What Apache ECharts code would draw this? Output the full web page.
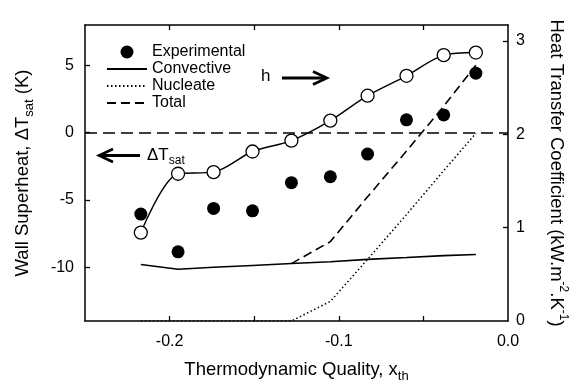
<!DOCTYPE html>
<html>
<head>
<meta charset="utf-8">
<script src="https://cdn.jsdelivr.net/npm/echarts@6/dist/echarts.min.js"></script>
<style>
  html, body { margin: 0; padding: 0; background: #fff; }
  #chart { width: 580px; height: 384px; }
</style>
</head>
<body>
<div id="chart"></div>
<script>
// thermodynamic quality of each measurement station
const quality = [-0.217, -0.195, -0.174, -0.151, -0.128, -0.105, -0.083, -0.060, -0.038, -0.019];
// wall superheat, K (left axis)
const experimental = [-6.05, -8.86, -5.63, -5.81, -3.72, -3.28, -1.59, 0.95, 1.32, 4.42];
// heat transfer coefficient, kW/m2K (right axis)
const hMeasured = [0.947, 1.577, 1.594, 1.815, 1.932, 2.146, 2.413, 2.626, 2.847, 2.875];
const convective = [0.605, 0.555, 0.575, 0.595, 0.615, 0.635, 0.66, 0.68, 0.70, 0.712];
const nucleate = [0, 0, 0, 0, 0, 0.21, 0.66, 1.14, 1.61, 2.01];
const total = [null, null, null, null, 0.615, 0.85, 1.33, 1.82, 2.30, 2.74];

const xTicks = [-0.2, -0.15, -0.1, -0.05];
const xLabels = [-0.2, -0.1, 0];
const leftTicks = [-10, -5, 0, 5];
const rightTicks = [0, 1, 2, 3];

const FONT = 'Liberation Sans, Arial, Helvetica, sans-serif';
const BLACK = '#000';

const pairs = (ys) => quality.map((x, i) => [x, ys[i]]);

const richName = {
  m: { fontSize: 18.5, fontFamily: FONT, color: BLACK, lineHeight: 26, verticalAlign: 'middle' },
  s: { fontSize: 13, fontFamily: FONT, color: BLACK, lineHeight: 13, verticalAlign: 'bottom' },
  p: { fontSize: 12, fontFamily: FONT, color: BLACK, lineHeight: 12, verticalAlign: 'top' }
};

const chart = echarts.init(document.getElementById('chart'));

const frameLine = { show: true, onZero: false, lineStyle: { color: BLACK, width: 1.5 } };
const inTick = (vals) => ({ show: true, inside: true, length: 5, customValues: vals, lineStyle: { color: BLACK, width: 1.3 } });
const tickFont = { fontFamily: FONT, fontSize: 16, color: BLACK };
const noSymbolInLegend = { color: 'transparent', borderColor: 'transparent', opacity: 0 };

const option = {
  animation: false,
  backgroundColor: '#fff',
  grid: { left: 85, right: 72, top: 25, bottom: 63, outerBoundsMode: 'none' },
  legend: {
    data: [
      { name: 'Experimental' },
      { name: 'Convective', itemStyle: noSymbolInLegend },
      { name: 'Nucleate', itemStyle: noSymbolInLegend },
      { name: 'Total', itemStyle: noSymbolInLegend }
    ],
    orient: 'vertical',
    left: 106,
    top: 44,
    padding: 0,
    itemWidth: 40,
    itemHeight: 13,
    itemGap: 1,
    selectedMode: false,
    textStyle: { fontFamily: FONT, fontSize: 16, color: BLACK }
  },
  xAxis: [
    {
      type: 'value',
      position: 'bottom',
      min: -0.25,
      max: 0,
      axisLine: frameLine,
      axisTick: inTick(xTicks),
      splitLine: { show: false },
      axisLabel: Object.assign({
        customValues: xLabels,
        margin: 13,
        formatter: (v) => {
          const r = Math.round(v * 10) / 10;
          return (r === 0 ? 0 : r).toFixed(1);
        }
      }, tickFont),
      name: '{m|Thermodynamic Quality, x}{s|th}',
      nameLocation: 'middle',
      nameGap: 36,
      nameTextStyle: { rich: richName }
    },
    {
      type: 'value',
      position: 'top',
      min: -0.25,
      max: 0,
      axisLine: frameLine,
      axisTick: inTick(xTicks),
      axisLabel: { show: false },
      splitLine: { show: false }
    }
  ],
  yAxis: [
    {
      type: 'value',
      position: 'left',
      min: -14,
      max: 8,
      axisLine: frameLine,
      axisTick: inTick(leftTicks),
      splitLine: { show: false },
      axisLabel: Object.assign({ customValues: leftTicks, margin: 11 }, tickFont),
      name: '{m|Wall Superheat, ΔT}{s|sat}{m| (K)}',
      nameLocation: 'middle',
      nameRotate: 90,
      nameGap: 49,
      nameTextStyle: { rich: richName }
    },
    {
      type: 'value',
      position: 'right',
      min: 0,
      max: 3.17,
      axisLine: frameLine,
      axisTick: inTick([1, 2, 3]),
      splitLine: { show: false },
      axisLabel: Object.assign({ customValues: rightTicks, margin: 8 }, tickFont),
      name: '{m|Heat Transfer Coefficient (kW.m}{p|-2}{m|.K}{p|-1}{m|)}',
      nameLocation: 'middle',
      nameRotate: -90,
      nameGap: 35,
      nameTextStyle: { rich: richName }
    }
  ],
  graphic: [
    { type: 'text', left: 261, top: 68, style: { text: 'h', font: '17px ' + FONT, fill: BLACK } },
    { type: 'line', shape: { x1: 282, y1: 78, x2: 326, y2: 78 }, style: { stroke: BLACK, lineWidth: 3 } },
    { type: 'polyline', shape: { points: [[313, 71.5], [327, 78], [313, 84.5]] }, style: { stroke: BLACK, lineWidth: 2.6, fill: null } },
    { type: 'line', shape: { x1: 100, y1: 155.5, x2: 140, y2: 155.5 }, style: { stroke: BLACK, lineWidth: 3 } },
    { type: 'polyline', shape: { points: [[113, 149], [99, 155.5], [113, 162]] }, style: { stroke: BLACK, lineWidth: 2.6, fill: null } },
    {
      type: 'text', left: 147, top: 147,
      style: {
        text: '{m|ΔT}{s|sat}',
        rich: {
          m: { fontSize: 17, fontFamily: FONT, fill: BLACK, lineHeight: 22, verticalAlign: 'middle' },
          s: { fontSize: 12, fontFamily: FONT, fill: BLACK, lineHeight: 11, verticalAlign: 'bottom' }
        }
      }
    }
  ],
  series: [
    {
      name: 'Convective',
      type: 'line',
      yAxisIndex: 1,
      data: pairs(convective),
      symbol: 'none',
      lineStyle: { color: BLACK, width: 1.6 },
      itemStyle: { color: BLACK }
    },
    {
      name: 'Nucleate',
      type: 'line',
      yAxisIndex: 1,
      data: pairs(nucleate),
      symbol: 'none',
      lineStyle: { color: BLACK, width: 1.5, type: [1.5, 2.5] },
      itemStyle: { color: BLACK }
    },
    {
      name: 'Total',
      type: 'line',
      yAxisIndex: 1,
      data: pairs(total),
      symbol: 'none',
      connectNulls: false,
      lineStyle: { color: BLACK, width: 1.6, type: [9, 5] },
      itemStyle: { color: BLACK }
    },
    {
      name: 'h',
      type: 'line',
      yAxisIndex: 1,
      data: pairs(hMeasured),
      smooth: 0.3,
      symbol: 'circle',
      symbolSize: 13,
      lineStyle: { color: BLACK, width: 1.4 },
      itemStyle: { color: '#fff', borderColor: BLACK, borderWidth: 1.3 },
      z: 4
    },
    {
      name: 'Experimental',
      type: 'scatter',
      yAxisIndex: 0,
      data: pairs(experimental),
      symbol: 'circle',
      symbolSize: 13,
      itemStyle: { color: BLACK, opacity: 1 },
      z: 5,
      markLine: {
        silent: true,
        symbol: ['none', 'none'],
        label: { show: false },
        lineStyle: { color: BLACK, width: 1.5, type: [12, 6] },
        data: [{ yAxis: 0 }]
      }
    }
  ]
};

chart.setOption(option);
</script>
</body>
</html>
